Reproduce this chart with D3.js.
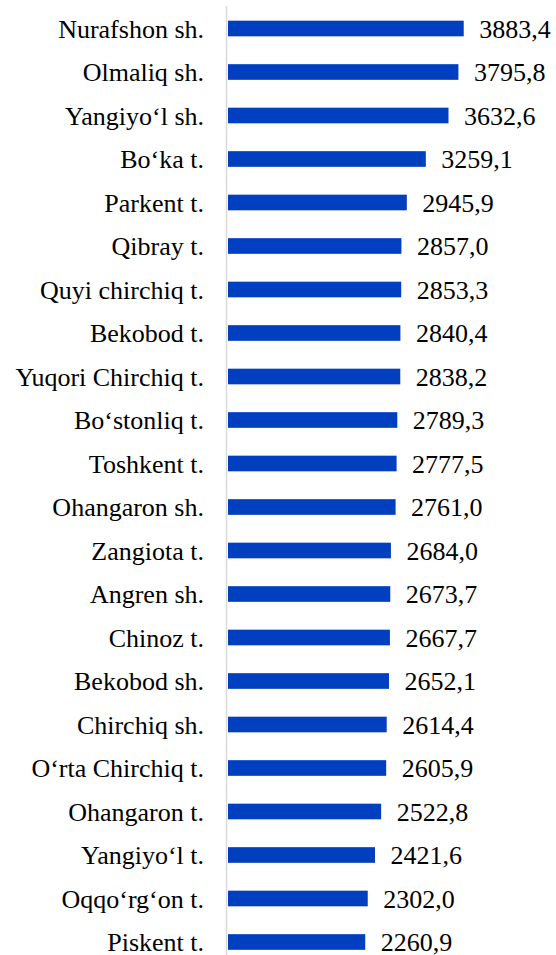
<!DOCTYPE html>
<html>
<head>
    <meta charset="utf-8">
    <script src="https://d3js.org/d3.v7.min.js"></script>
</head>
<body style="margin:0">
    <svg width="556" height="955" id="mainsvg" style="font-family: 'Liberation Serif', Tinos, serif"></svg>
    <script>
        const districts = ['Nurafshon sh.', 'Olmaliq sh.', 'Yangiyo\u2018l sh.', 'Bo\u2018ka t.', 'Parkent t.',
            'Qibray t.', 'Quyi chirchiq t.', 'Bekobod t.', 'Yuqori Chirchiq t.', 'Bo\u2018stonliq t.',
            'Toshkent t.', 'Ohangaron sh.', 'Zangiota t.', 'Angren sh.', 'Chinoz t.', 'Bekobod sh.',
            'Chirchiq sh.', 'O\u2018rta Chirchiq t.', 'Ohangaron t.', 'Yangiyo\u2018l t.', 'Oqqo\u2018rg\u2018on t.', 'Piskent t.'];
        const values = [3883.4, 3795.8, 3632.6, 3259.1, 2945.9, 2857.0, 2853.3, 2840.4, 2838.2, 2789.3,
            2777.5, 2761.0, 2684.0, 2673.7, 2667.7, 2652.1, 2614.4, 2605.9, 2522.8, 2421.6, 2302.0, 2260.9];

        const data = districts.map((d, i) => ({ name: d, value: values[i] }));

        const svg = d3.select('#mainsvg');
        const x0 = 228;
        const serif = "'Liberation Serif', Tinos, 'Times New Roman', serif";

        const xScale = d3.scaleLinear()
            .domain([0, 1000])
            .range([x0, x0 + 60.7]);

        const yScale = d3.scaleBand()
            .domain(districts)
            .range([6.75, 963.75])
            .paddingInner(0.64)
            .paddingOuter(0.32);

        const fmt = v => d3.format('.1f')(v).replace('.', ',');

        // bars
        svg.selectAll('rect.bar').data(data).join('rect')
            .attr('class', 'bar')
            .attr('x', xScale(0))
            .attr('y', d => yScale(d.name))
            .attr('width', d => xScale(d.value) - xScale(0))
            .attr('height', yScale.bandwidth())
            .attr('fill', '#0040c0');

        // vertical axis line
        svg.append('line')
            .attr('x1', x0 - 1.5).attr('x2', x0 - 1.5)
            .attr('y1', 6).attr('y2', 955)
            .attr('stroke', '#d9d9d9')
            .attr('stroke-width', 1.5);

        // category labels
        svg.selectAll('text.cat').data(data).join('text')
            .attr('class', 'cat')
            .attr('x', 204)
            .attr('y', d => yScale(d.name) + yScale.bandwidth() / 2 + 9)
            .attr('text-anchor', 'end')
            .style('font-family', serif, 'important')
            .style('font-size', '26px')
            .text(d => d.name);

        // value labels
        svg.selectAll('text.val').data(data).join('text')
            .attr('class', 'val')
            .attr('x', d => xScale(d.value) + 15.5)
            .attr('y', d => yScale(d.name) + yScale.bandwidth() / 2 + 9)
            .style('font-family', serif, 'important')
            .style('font-size', '26px')
            .text(d => fmt(d.value));
    </script>
</body>
</html>
